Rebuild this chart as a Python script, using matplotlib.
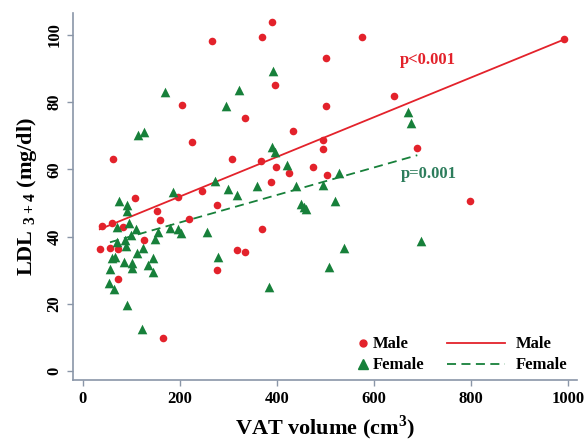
import matplotlib
matplotlib.use('Agg')
import matplotlib.pyplot as plt
import numpy as np
from matplotlib.lines import Line2D

plt.rcParams['font.family'] = 'Liberation Serif'
plt.rcParams['font.weight'] = 'bold'
plt.rcParams['axes.labelweight'] = 'bold'
plt.rcParams['mathtext.fontset'] = 'custom'
plt.rcParams['mathtext.rm'] = 'Liberation Serif:bold'
plt.rcParams['mathtext.bf'] = 'Liberation Serif:bold'

# Male (VAT volume, LDL 3+4)
male_x = [35, 39, 56, 60, 62, 72, 72, 83, 108, 127, 153, 159, 165, 197, 204, 218, 224, 245,
          266, 277, 277, 307, 318, 334, 335, 367, 369, 370, 387, 390, 396, 398, 424, 433,
          474, 494, 495, 501, 501, 503, 575, 641, 689, 798, 992]
male_y = [36.3, 43.1, 36.6, 43.9, 63.0, 36.3, 27.4, 42.7, 51.4, 39.1, 47.6, 44.9, 9.8, 51.7,
          79.0, 45.3, 68.0, 53.5, 98.0, 49.4, 30.0, 63.0, 35.9, 75.2, 35.5, 62.4, 99.3, 42.2,
          56.1, 103.7, 85.0, 60.6, 58.9, 71.3, 60.6, 66.0, 68.6, 78.8, 93.0, 58.2, 99.3, 81.7,
          66.3, 50.7, 98.7]

# Female
female_x = [53, 56, 61, 65, 66, 70, 70, 74, 84, 86, 88, 91, 92, 92, 95, 100, 102, 102, 109,
            111, 113, 122, 123, 126, 135, 145, 145, 149, 155, 169, 179, 186, 196, 202, 255,
            272, 278, 295, 299, 317, 321, 358, 383, 389, 391, 396, 421, 439, 449, 456, 460,
            495, 507, 520, 528, 538, 670, 676, 697]
female_y = [26.1, 30.3, 33.6, 24.4, 33.9, 42.7, 38.4, 50.6, 32.4, 38.9, 37.1, 47.6, 49.4, 19.6,
            43.9, 40.4, 32.1, 30.6, 42.3, 35.0, 70.1, 12.5, 36.6, 71.1, 31.5, 33.6, 29.4, 39.2,
            41.3, 82.9, 42.5, 53.2, 42.2, 41.0, 41.3, 56.4, 34.0, 78.8, 54.0, 52.3, 83.5, 55.1,
            25.0, 66.6, 89.2, 65.1, 61.3, 55.0, 49.6, 48.7, 48.1, 55.3, 31.0, 50.7, 58.8, 36.6,
            77.0, 73.9, 38.6]

# regression lines (intercept, slope) and x range
male_fit = (40.1, 0.059)
male_fit_range = (35, 992)
female_fit = (36.0, 0.0409)
female_fit_range = (56, 689)

red = '#e3222b'
green = '#17803a'
green_txt = '#2d7d5c'
axcol = '#8a96a8'

fig = plt.figure(figsize=(5.87, 4.41), dpi=100)
ax = fig.add_axes([0.124, 0.138, 0.859, 0.832])

ax.scatter(male_x, male_y, s=30, color=red, marker='o', linewidths=0, zorder=3)
ax.scatter(female_x, female_y, s=48, color=green, marker='^', linewidths=0, zorder=3)

xm = np.array(male_fit_range)
ax.plot(xm, male_fit[0] + male_fit[1] * xm, color=red, lw=1.3, zorder=2)
xf = np.array(female_fit_range)
ax.plot(xf, female_fit[0] + female_fit[1] * xf, color=green, lw=1.3, ls=(0, (5, 3)), zorder=2)

ax.text(711, 92.4, 'p<0.001', color=red, fontsize=12, ha='center', va='center')
ax.text(713, 58.5, 'p=0.001', color=green_txt, fontsize=12, ha='center', va='center')

ax.set_xlim(-20.6, 1018)
ax.set_ylim(-2.7, 106.4)
ax.set_xticks([0, 200, 400, 600, 800, 1000])
ax.set_yticks([0, 20, 40, 60, 80, 100])
for lab in ax.get_yticklabels():
    lab.set_rotation(90)
    lab.set_va('center')
ax.tick_params(colors=axcol, labelcolor='black', labelsize=12, length=4, width=1)
for s in ['top', 'right']:
    ax.spines[s].set_visible(False)
for s in ['left', 'bottom']:
    ax.spines[s].set_color(axcol)
    ax.spines[s].set_linewidth(1.2)

ax.set_xlabel('VAT volume (cm$^{3}$)', fontsize=16, fontweight='bold', labelpad=5)
ax.set_ylabel('LDL $_{3+4}$ (mg/dl)', fontsize=16, fontweight='bold', labelpad=5)

h1 = [Line2D([], [], ls='', marker='o', color=red, markersize=5),
      Line2D([], [], ls='', marker='^', color=green, markersize=7)]
leg1 = ax.legend(h1, ['Male', 'Female'], loc='lower left', bbox_to_anchor=(0.552, 0.0),
                 frameon=False, handlelength=0.6, handletextpad=0.3, fontsize=12,
                 labelspacing=0.3, borderaxespad=0)
ax.add_artist(leg1)
h2 = [Line2D([], [], color=red, lw=1.3),
      Line2D([], [], color=green, lw=1.3, ls=(0, (5, 3)))]
ax.legend(h2, ['Male', 'Female'], loc='lower left', bbox_to_anchor=(0.728, 0.0),
          frameon=False, handlelength=3.5, handletextpad=0.66, fontsize=12,
          labelspacing=0.3, borderaxespad=0)

fig.savefig('out.png', dpi=100)
